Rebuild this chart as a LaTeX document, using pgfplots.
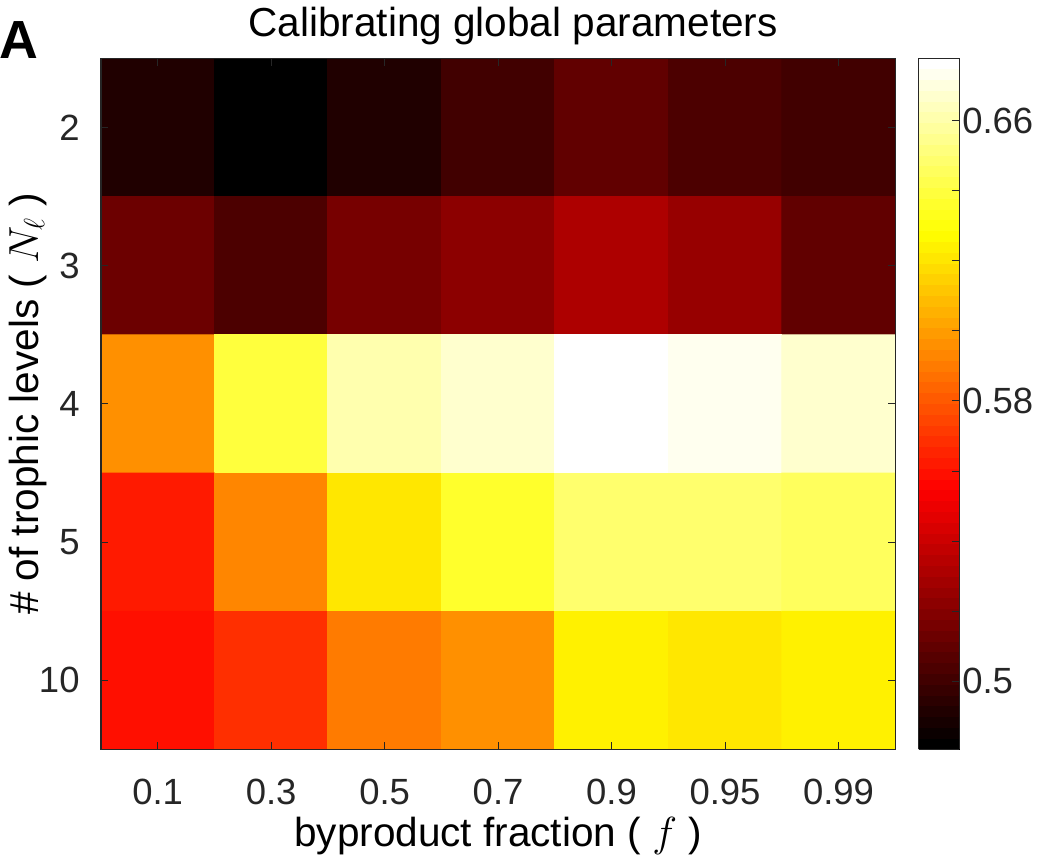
\documentclass[border=0pt]{standalone}
\usepackage{fontspec}
\setmainfont{Liberation Sans}
\usepackage{pgfplots}
\pgfplotsset{compat=1.18}
\usepackage{pgfplotstable}

\definecolor{axgray}{HTML}{262626}

% black -> red -> yellow -> white, 64 steps
\pgfplotsset{
  colormap={hotbase}{rgb255(0cm)=(0,0,0) rgb255(3cm)=(255,0,0) rgb255(6cm)=(255,255,0) rgb255(8cm)=(255,255,255)},
}

% mean score per (trophic levels, byproduct fraction) cell
% x: byproduct fraction index, y: trophic level index
\pgfplotstableread{
x y c
0 0 0.4899
1 0 0.4810
2 0 0.4922
3 0 0.5014
4 0 0.5113
5 0 0.5044
6 0 0.4991
0 1 0.5130
1 1 0.5038
2 1 0.5165
3 1 0.5229
4 1 0.5305
5 1 0.5258
6 1 0.5113
0 2 0.5974
1 2 0.6377
2 2 0.6617
3 2 0.6678
4 2 0.6777
5 2 0.6740
6 2 0.6655
0 3 0.5615
1 3 0.5916
2 3 0.6212
3 3 0.6365
4 3 0.6493
5 3 0.6470
6 3 0.6465
0 4 0.5592
1 4 0.5696
2 4 0.5910
3 4 0.5974
4 4 0.6224
5 4 0.6218
6 4 0.6253
}\gridtable

\begin{document}
\begin{tikzpicture}
\begin{axis}[
  scale only axis,
  width=392pt, height=341pt,
  xmin=-0.5, xmax=6.5, ymin=-0.5, ymax=4.5,
  y dir=reverse,
  axis on top,
  colormap={hotsteps}{samples of colormap=(64 of hotbase)},
  colormap access=piecewise constant,
  point meta min=0.4806, point meta max=0.6777,
  xtick={0,...,6},
  xticklabels={0.1,0.3,0.5,0.7,0.9,0.95,0.99},
  ytick={0,...,4},
  yticklabels={2,3,4,5,10},
  tick align=inside,
  major tick length=3.5pt,
  tick style={axgray, line width=0.5pt},
  axis line style={axgray, line width=0.6pt},
  ticklabel style={font=\fontsize{18}{20}\selectfont, text=axgray},
  xticklabel shift=11pt,
  yticklabel shift=7pt,
  /pgf/number format/assume math mode=true,
  title={Calibrating global parameters},
  title style={font=\fontsize{20}{24}\selectfont, at={(axis description cs:0.519,1)}, anchor=base, yshift=5pt},
  xlabel={byproduct fraction ( $f$ )},
  xlabel style={font=\fontsize{20}{24}\selectfont, at={(axis description cs:0.5,-0.14)}, anchor=base},
  ylabel={\# of trophic levels ( $N_\ell$ )},
  ylabel style={font=\fontsize{20}{24}\selectfont, at={(axis description cs:-0.079,0.5)}, anchor=base},
  colorbar,
  colorbar style={
    at={(parent axis.north east)}, anchor=north west, xshift=3pt,
    width=20pt,
    ytick={0.5,0.58,0.66},
    yticklabels={0.5,0.58,0.66},
    minor ytick={0.52,0.54,0.56,0.60,0.62,0.64},
    ytick align=inside,
    ytick pos=right,
    yticklabel pos=right,
    major tick length=3.5pt, minor tick length=3.5pt,
    tick style={axgray, line width=0.5pt},
    axis line style={axgray, line width=0.6pt},
    yticklabel style={font=\fontsize{18}{20}\selectfont, text=axgray},
    yticklabel shift=-2pt,
  },
]
\addplot[matrix plot*, mesh/cols=7, point meta=explicit] table[x=x, y=y, meta=c] {\gridtable};
\end{axis}
\node[anchor=base west, inner sep=0pt, font=\fontsize{26.5}{30}\selectfont\bfseries] at (-50pt,341pt) {A};
\end{tikzpicture}
\end{document}
